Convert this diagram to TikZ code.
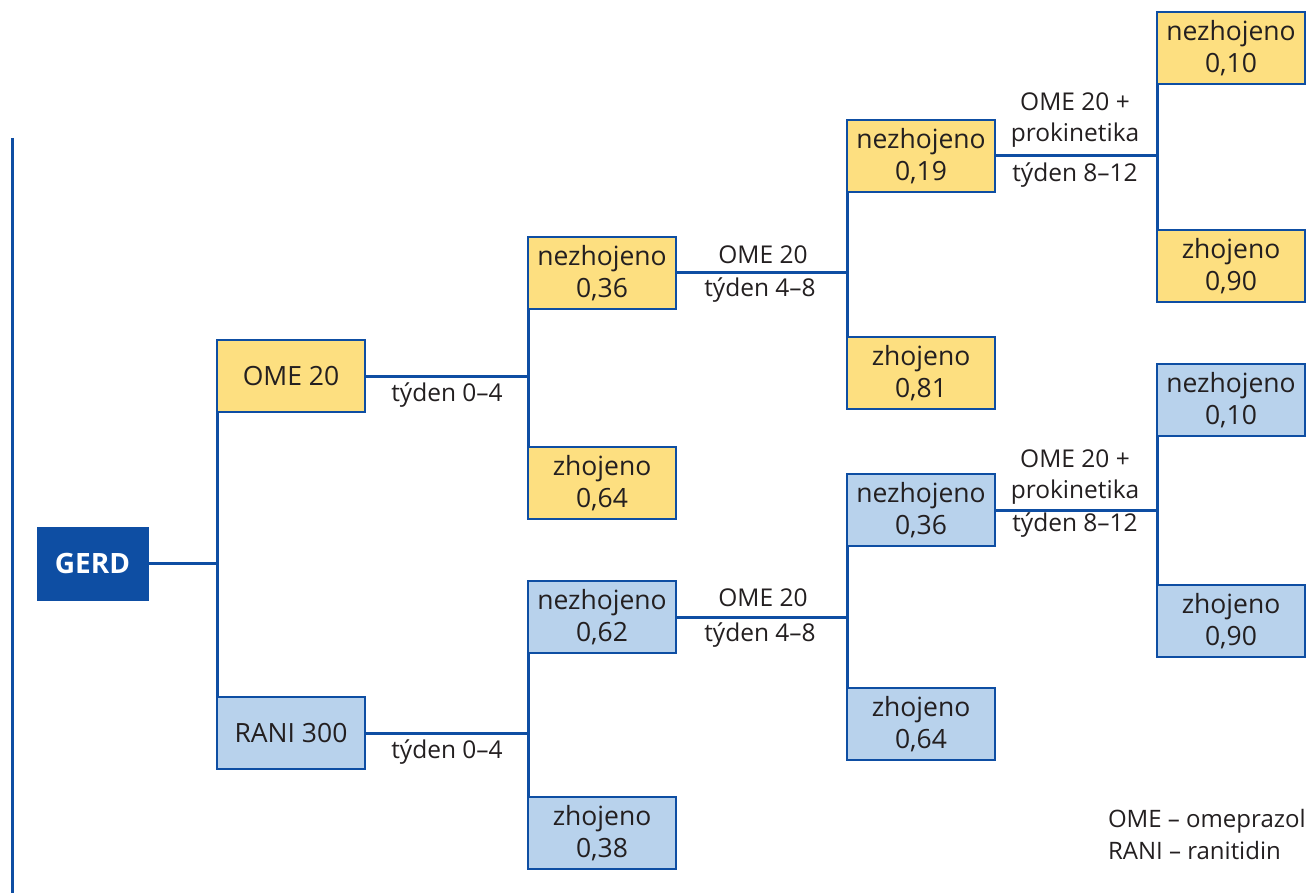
\documentclass[tikz,border=0pt]{standalone}
\usepackage{fontspec}
\setmainfont{Open Sans}
\definecolor{dblue}{HTML}{0E4EA3}
\definecolor{yfill}{HTML}{FDDF80}
\definecolor{bfill}{HTML}{B8D2EC}
\definecolor{txt}{HTML}{231F20}
\begin{document}
\begin{tikzpicture}[x=1pt,y=-1pt,
  every node/.style={inner sep=0pt,outer sep=0pt,font=\fontsize{24.5}{31}\selectfont,text=txt},
  box/.style={draw=dblue,line width=2pt,minimum width=148pt,minimum height=72pt,align=center,anchor=north west,font=\fontsize{26.5}{32}\selectfont},
  ybox/.style={box,fill=yfill},
  bbox/.style={box,fill=bfill},
  conn/.style={draw=dblue,line width=3pt},
  lbl/.style={align=center}]
\useasboundingbox (0,0) rectangle (1306,893);
% left rule
\coordinate (rt) at (12,138);
\coordinate (rb) at (12,893);
\draw[conn] (rt) -- (rb);
% nodes
\node[draw=dblue,fill=dblue,minimum width=111pt,minimum height=73pt,anchor=north west,text=white,font=\fontsize{28}{30}\selectfont\bfseries] (gerd) at (37,527) {GERD};
\node[ybox] (ome) at (217,340) {OME 20};
\node[bbox] (rani) at (217,697) {RANI 300};
\node[ybox] (a1) at (528,237) {nezhojeno\\0,36};
\node[ybox] (a2) at (528,447) {zhojeno\\0,64};
\node[ybox] (b1) at (847,120) {nezhojeno\\0,19};
\node[ybox] (b2) at (847,337) {zhojeno\\0,81};
\node[ybox] (c1) at (1157,12) {nezhojeno\\0,10};
\node[ybox] (c2) at (1157,230) {zhojeno\\0,90};
\node[bbox] (d1) at (528,581) {nezhojeno\\0,62};
\node[bbox] (d2) at (528,797) {zhojeno\\0,38};
\node[bbox] (e1) at (847,474) {nezhojeno\\0,36};
\node[bbox] (e2) at (847,688) {zhojeno\\0,64};
\node[bbox] (f1) at (1157,364) {nezhojeno\\0,10};
\node[bbox] (f2) at (1157,585) {zhojeno\\0,90};
% connectors
\draw[conn] (gerd.east) -- (gerd.east -| ome.west);
\draw[conn] (ome.south west) -- (rani.north west);
\draw[conn] (ome.east) -- (ome.east -| a1.west);
\draw[conn] (a1.south west) -- (a2.north west);
\draw[conn] (a1.east) -- (a1.east -| b1.west);
\draw[conn] (b1.south west) -- (b2.north west);
\draw[conn] (b1.east) -- (b1.east -| c1.west);
\draw[conn] (c1.south west) -- (c2.north west);
\draw[conn] (rani.east) -- (rani.east -| d1.west);
\draw[conn] (d1.south west) -- (d2.north west);
\draw[conn] (d1.east) -- (d1.east -| e1.west);
\draw[conn] (e1.south west) -- (e2.north west);
\draw[conn] (e1.east) -- (e1.east -| f1.west);
\draw[conn] (f1.south west) -- (f2.north west);
% labels
\node[lbl] (l1) at (447,395) {týden 0–4};
\node[lbl] (l2) at (447,752) {týden 0–4};
\node[lbl] (l3) at (763,255) {OME 20};
\node[lbl] (l4) at (760,290) {týden 4–8};
\node[lbl] (l5) at (763,598) {OME 20};
\node[lbl] (l6) at (760,635) {týden 4–8};
\node[lbl] (l7) at (1075,120) {OME 20 +\\prokinetika};
\node[lbl] (l8) at (1075,175) {týden 8–12};
\node[lbl] (l9) at (1075,477) {OME 20 +\\prokinetika};
\node[lbl] (l10) at (1075,525) {týden 8–12};
\node[align=left,anchor=west,font=\fontsize{24}{32}\selectfont] (leg) at (1108,834) {OME – omeprazol\\RANI – ranitidin};
\end{tikzpicture}
\end{document}
